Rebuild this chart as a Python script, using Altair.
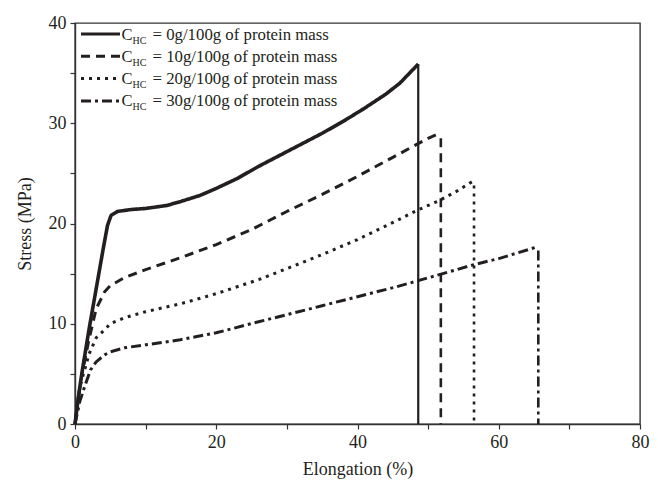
import altair as alt
import pandas as pd

# ---- data ----
series_names = ["0g/100g", "10g/100g", "20g/100g", "30g/100g"]

solid_x = [0, 0.5, 1, 2, 3, 4, 4.6, 5.1, 6, 8, 10, 13, 15, 17.7, 20, 23, 26, 29, 32, 35, 38, 41, 44, 46, 48.6]
solid_y = [0, 2.8, 5.2, 9.5, 13.5, 17.5, 19.8, 20.8, 21.2, 21.4, 21.5, 21.8, 22.2, 22.8, 23.5, 24.5, 25.7, 26.8, 27.9, 29.0, 30.2, 31.5, 32.9, 34.0, 35.9]

dashed_x = [0, 0.5, 1, 2, 3, 4.2, 5, 7, 10, 15, 20, 25, 30, 35, 40, 45, 50, 51.6]
dashed_y = [0, 2.7, 5, 8.5, 11.5, 13.2, 13.8, 14.6, 15.4, 16.6, 17.9, 19.4, 21.2, 22.9, 24.7, 26.6, 28.5, 29.0]

dotted_x = [0, 0.5, 1, 2, 3, 4.2, 5, 7, 10, 15, 20, 26, 30, 35, 40, 45.6, 48.4, 51.6, 54, 56.3]
dotted_y = [0, 3, 4.5, 7, 8.6, 9.4, 10, 10.6, 11.2, 12.0, 13.0, 14.4, 15.5, 16.9, 18.4, 20.3, 21.3, 22.3, 23.2, 24.2]

dashdot_x = [0, 0.7, 1.5, 2.2, 3, 4.2, 5, 7, 10, 14.9, 20, 26, 30, 35, 40, 45.6, 51.6, 56.5, 60, 65.6]
dashdot_y = [0, 2.3, 4, 5.4, 6.2, 6.9, 7.2, 7.6, 7.9, 8.4, 9.1, 10.2, 10.9, 11.8, 12.7, 13.7, 14.9, 15.9, 16.5, 17.7]

drop_x = [48.6, 51.8, 56.5, 65.6]
drop_top = [35.9, 28.5, 23.8, 17.3]

x_ticks = [0, 10, 20, 30, 40, 50, 60, 70, 80]
y_ticks = [0, 5, 10, 15, 20, 25, 30, 35, 40]

# ---- styles ----
INK = "#231f20"
FONT = "Liberation Serif"
dashes = [[1, 0], [9, 6], [3, 5], [10, 4, 3, 4]]
widths = [3.6, 3, 3, 3]
drop_widths = [2.2, 2.6, 2.6, 2.6]

xs = [solid_x, dashed_x, dotted_x, dashdot_x]
ys = [solid_y, dashed_y, dotted_y, dashdot_y]

xscale = alt.Scale(domain=[0, 80], nice=False, zero=False)
yscale = alt.Scale(domain=[0, 40], nice=False, zero=False)

axis_common = dict(
    domainColor="#333333", domainWidth=1.4, tickColor="#333333", tickWidth=1.2,
    tickSize=5, labelFont=FONT, labelFontSize=18, labelColor=INK,
    titleFont=FONT, titleFontSize=18, titleColor=INK, titleFontWeight="normal",
    grid=False,
)
xax = alt.Axis(values=x_ticks, title="Elongation (%)", titlePadding=9, labelPadding=4,
               labelExpr="datum.value % 20 == 0 ? datum.label : ''", labelFlush=False,
               orient="bottom", **axis_common)
yax = alt.Axis(values=y_ticks, title="Stress (MPa)", titlePadding=14, labelPadding=4,
               labelExpr="datum.value % 10 == 0 ? datum.label : ''", labelFlush=False,
               orient="left", **axis_common)

layers = []
for i, name in enumerate(series_names):
    df = pd.DataFrame({"x": xs[i], "y": ys[i], "o": list(range(len(xs[i])))})
    line = alt.Chart(df).mark_line(
        color=INK, strokeWidth=widths[i], strokeDash=dashes[i], strokeJoin="round"
    ).encode(
        x=alt.X("x:Q", scale=xscale, axis=xax),
        y=alt.Y("y:Q", scale=yscale, axis=yax),
        order="o:Q",
    )
    layers.append(line)

    ddf = pd.DataFrame({"x": [drop_x[i]], "y": [drop_top[i]], "y0": [0]})
    rule = alt.Chart(ddf).mark_rule(
        color=INK, strokeWidth=drop_widths[i], strokeDash=dashes[i]
    ).encode(
        x=alt.X("x:Q", scale=xscale, axis=xax),
        y=alt.Y("y:Q", scale=yscale, axis=yax),
        y2="y0:Q",
    )
    layers.append(rule)

# ---- custom legend (with subscript) ----
row0 = 11
row_step = 22.3
for i, name in enumerate(series_names):
    yy = row0 + row_step * i
    layers.append(
        alt.Chart(pd.DataFrame({"a": [0]})).mark_rule(
            color=INK, strokeWidth=3, strokeDash=dashes[i]
        ).encode(x=alt.value(6), x2=alt.value(45), y=alt.value(yy))
    )
    base = dict(font=FONT, color=INK, align="left", baseline="alphabetic")
    layers.append(
        alt.Chart(pd.DataFrame({"t": ["C"]})).mark_text(fontSize=16.5, **base)
        .encode(x=alt.value(46.5), y=alt.value(yy + 5.5), text="t:N")
    )
    layers.append(
        alt.Chart(pd.DataFrame({"t": ["HC"]})).mark_text(fontSize=10, **base)
        .encode(x=alt.value(57.5), y=alt.value(yy + 9.5), text="t:N")
    )
    layers.append(
        alt.Chart(pd.DataFrame({"t": [f"= {name} of protein mass"]})).mark_text(fontSize=16.8, **base)
        .encode(x=alt.value(77.5), y=alt.value(yy + 5.5), text="t:N")
    )

chart = alt.layer(*layers).properties(
    width=565, height=401,
    autosize=alt.AutoSizeParams(type="none"),
    padding={"left": 67, "top": 15, "right": 10, "bottom": 57},
    background="white",
).configure_view(stroke="#333333", strokeWidth=1.4)

chart.save("out.html", embed_options={"renderer": "svg", "actions": False})
